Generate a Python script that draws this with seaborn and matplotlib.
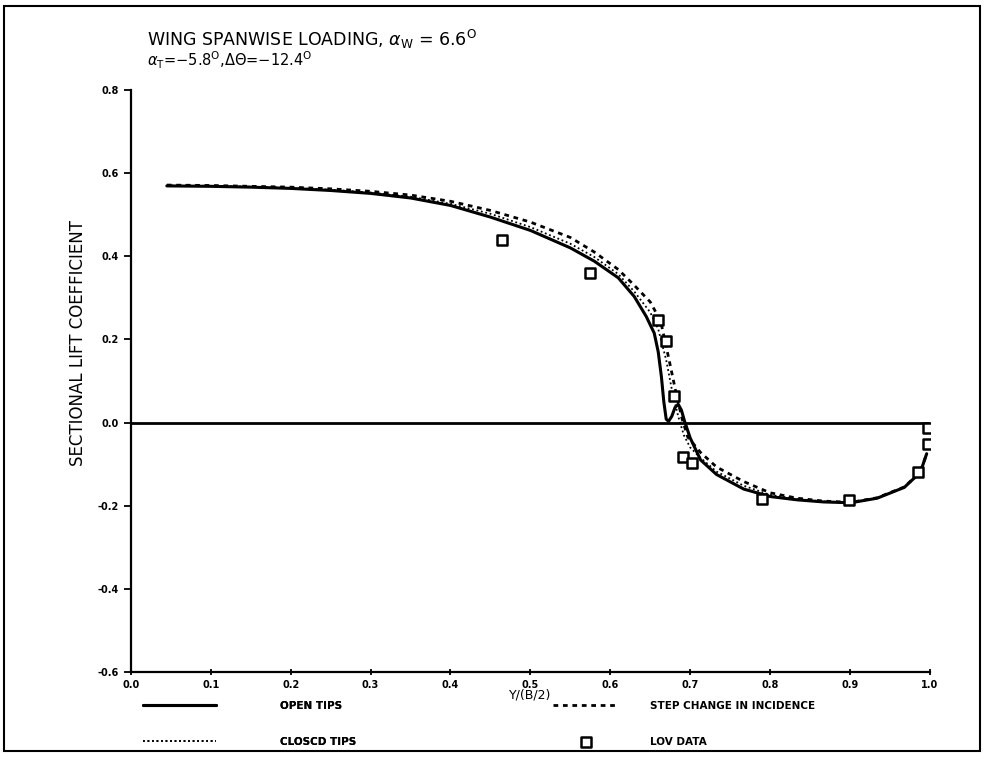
import numpy as np
import pandas as pd
import matplotlib
matplotlib.use("Agg")
import matplotlib.pyplot as plt
import seaborn as sns
from matplotlib.patches import Rectangle

# open tips (solid)
x_open = [0.045, 0.10, 0.15, 0.20, 0.25, 0.30, 0.35, 0.40, 0.45, 0.50, 0.55, 0.58,
          0.61, 0.63, 0.645, 0.655, 0.660, 0.664, 0.667, 0.670, 0.673, 0.677, 0.681,
          0.685, 0.689, 0.693, 0.700, 0.713, 0.733, 0.767, 0.800, 0.834, 0.867, 0.901,
          0.934, 0.968, 0.988, 0.996]
y_open = [0.569, 0.568, 0.566, 0.563, 0.558, 0.551, 0.540, 0.522, 0.494, 0.462, 0.420,
          0.388, 0.348, 0.303, 0.255, 0.215, 0.170, 0.110, 0.050, 0.008, 0.003, 0.015,
          0.036, 0.044, 0.030, 0.003, -0.037, -0.090, -0.125, -0.160, -0.178, -0.186,
          -0.191, -0.193, -0.182, -0.156, -0.120, -0.075]

# step change in incidence (dashed)
x_step = [0.045, 0.10, 0.15, 0.20, 0.25, 0.30, 0.35, 0.40, 0.45, 0.50, 0.55, 0.58,
          0.61, 0.63, 0.65, 0.663, 0.673, 0.683, 0.690, 0.697, 0.713, 0.733, 0.767,
          0.800, 0.834, 0.867, 0.901, 0.934, 0.968, 0.988, 0.996]
y_step = [0.571, 0.570, 0.568, 0.566, 0.562, 0.556, 0.547, 0.532, 0.510, 0.482, 0.445,
          0.410, 0.368, 0.330, 0.290, 0.244, 0.156, 0.065, 0.008, -0.035, -0.072,
          -0.107, -0.142, -0.169, -0.182, -0.189, -0.192, -0.181, -0.155, -0.119, -0.075]

# closed tips (dotted)
x_closed = [0.045, 0.10, 0.15, 0.20, 0.25, 0.30, 0.35, 0.40, 0.45, 0.50, 0.55, 0.58,
            0.61, 0.63, 0.65, 0.66, 0.670, 0.678, 0.685, 0.692, 0.700, 0.713, 0.733,
            0.767, 0.800, 0.834, 0.867, 0.901, 0.934, 0.968, 0.988, 0.996]
y_closed = [0.570, 0.569, 0.567, 0.564, 0.560, 0.553, 0.543, 0.526, 0.502, 0.470, 0.430,
            0.398, 0.357, 0.315, 0.265, 0.225, 0.150, 0.070, 0.015, -0.030, -0.060,
            -0.085, -0.118, -0.152, -0.174, -0.184, -0.190, -0.192, -0.182, -0.156,
            -0.120, -0.075]

# LOV data (squares)
x_lov = [0.464, 0.574, 0.660, 0.670, 0.680, 0.691, 0.702, 0.790, 0.899, 0.985, 0.998, 0.998]
y_lov = [0.440, 0.360, 0.247, 0.195, 0.064, -0.084, -0.098, -0.184, -0.186, -0.120, -0.051, -0.013]

x_ticks = [0.0, 0.1, 0.2, 0.3, 0.4, 0.5, 0.6, 0.7, 0.8, 0.9, 1.0]
y_ticks = [-0.6, -0.4, -0.2, 0.0, 0.2, 0.4, 0.6, 0.8]

sns.set_style("ticks")
plt.rcParams['font.family'] = ['DejaVu Sans']
plt.rcParams['text.color'] = 'black'
plt.rcParams['axes.labelcolor'] = 'black'
plt.rcParams['xtick.color'] = 'black'
plt.rcParams['ytick.color'] = 'black'

fig = plt.figure(figsize=(9.84, 7.66), dpi=100)
ax = fig.add_axes([0.133, 0.1227, 0.812, 0.760])

ax.axhline(0, color="black", lw=2.0, zorder=1)

sns.lineplot(x=x_open, y=y_open, ax=ax, color="black", lw=2.2, sort=False,
             estimator=None, label="OPEN TIPS")
sns.lineplot(x=x_closed, y=y_closed, ax=ax, color="black", lw=1.3, sort=False,
             estimator=None, label="CLOSCD TIPS", linestyle=(0, (1, 1.5)))
sns.lineplot(x=x_step, y=y_step, ax=ax, color="black", lw=2.0, sort=False,
             estimator=None, label="STEP CHANGE IN INCIDENCE", linestyle=(0, (1.7, 1.7)))
sns.scatterplot(x=x_lov, y=y_lov, ax=ax, marker="s", s=45, facecolor="white",
                edgecolor="black", linewidth=1.8, zorder=5, label="LOV DATA")

ax.set_xlim(0, 1.0)
ax.set_ylim(-0.6, 0.8)
ax.set_xticks(x_ticks)
ax.set_yticks(y_ticks)
ax.set_xticklabels([f"{t:.1f}" for t in x_ticks], fontsize=7, fontweight="bold")
ax.set_yticklabels([f"{t:.1f}" for t in y_ticks], fontsize=7, fontweight="bold")
ax.tick_params(axis="y", direction="out", length=5, width=1.3)
ax.tick_params(axis="x", direction="inout", length=5, width=1.3)
sns.despine(ax=ax)
for s in ["left", "bottom"]:
    ax.spines[s].set_linewidth(1.6)
    ax.spines[s].set_color("black")

ax.set_xlabel("Y/(B/2)", fontsize=9, labelpad=-1)
ax.set_ylabel("SECTIONAL LIFT COEFFICIENT", fontsize=12, labelpad=2)
ax.yaxis.set_label_coords(-0.055, 0.565)

fig.text(0.149, 0.94, r"WING SPANWISE LOADING, $\alpha_{\rm W}$ = 6.6$^{\rm O}$",
         fontsize=12.5, va="baseline")
fig.text(0.149, 0.914, r"$\alpha_{\rm T}$=$-$5.8$^{\rm O}$,$\Delta\Theta$=$-$12.4$^{\rm O}$",
         fontsize=10.5, va="baseline")

ax.get_legend().remove()
h, l = ax.get_legend_handles_labels()
hd = dict(zip(l, h))
leg1 = fig.legend([hd["OPEN TIPS"], hd["CLOSCD TIPS"]], ["OPEN TIPS", "CLOSCD TIPS"],
                  loc="upper left", bbox_to_anchor=(0.145, 0.085), frameon=False,
                  handlelength=7, handletextpad=6.2, labelspacing=2.5,
                  borderpad=0, borderaxespad=0, prop={"weight": "bold", "size": 7.5})
leg2 = fig.legend([hd["STEP CHANGE IN INCIDENCE"], hd["LOV DATA"]],
                  ["STEP CHANGE IN INCIDENCE", "LOV DATA"],
                  loc="upper left", bbox_to_anchor=(0.562, 0.085), frameon=False,
                  handlelength=6.3, handletextpad=3.0, labelspacing=2.5,
                  borderpad=0, borderaxespad=0, prop={"weight": "bold", "size": 7.5})
fig.add_artist(leg1)

fig.patches.append(Rectangle((0.004, 0.02), 0.992, 0.972, transform=fig.transFigure,
                             fill=False, edgecolor="black", lw=1.5))

fig.savefig("out.png", dpi=100)
